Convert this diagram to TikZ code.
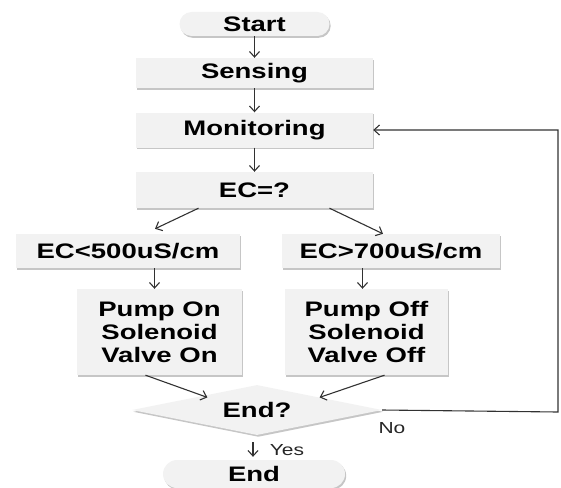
\documentclass[tikz,border=0pt]{standalone}
\usepackage{fontspec}
\setmainfont{Liberation Sans}[FakeStretch=1.31]
\usepackage{tikz}
\usetikzlibrary{shapes.geometric,arrows.meta,calc,shadows}
\definecolor{boxgray}{RGB}{242,242,242}
\definecolor{linegray}{RGB}{50,50,50}
\tikzset{
  box/.style={rectangle, fill=boxgray, drop shadow={shadow xshift=1.2pt, shadow yshift=-1.8pt, opacity=0.45}, inner sep=0pt, align=center, font=\fontsize{21}{23}\selectfont\bfseries},
  termbox/.style={box, rounded corners=12pt, minimum height=24pt},
  decbox/.style={box, diamond, aspect=5, minimum width=250pt, minimum height=50pt},
  arrow/.style={-{Straight Barb[length=5.5pt,width=10pt]}, linegray, line width=1.1pt},
  note/.style={font=\fontsize{16}{18}\selectfont, text=black!85},
}
\begin{document}
\begin{tikzpicture}[x=1pt, y=-1pt]
  \useasboundingbox (0,0) rectangle (561,487);
  % main column
  \node[termbox, minimum width=150pt] (start) at (254.5,24) {Start};
  \node[box, minimum width=237pt, minimum height=30pt] (sense) at (254.5,73) {Sensing};
  \node[box, minimum width=237pt, minimum height=35pt] (mon) at (254.5,130) {Monitoring};
  \node[box, minimum width=237pt, minimum height=36pt] (ecq) at (254.5,190) {EC=?};

  % two branches
  \node[box, minimum width=224pt, minimum height=34pt] (low) at (128,251) {EC<500uS/cm};
  \node[box, minimum width=218pt, minimum height=34pt] (high) at (391,251) {EC>700uS/cm};
  \node[box, minimum width=165pt, minimum height=86pt] (pumpon) at (159.5,332) {Pump On\\Solenoid\\Valve On};
  \node[box, minimum width=163pt, minimum height=86pt] (pumpoff) at (366.5,332) {Pump Off\\Solenoid\\Valve Off};

  % end check
  \node[decbox] (endq) at (257,410) {End?};
  \node[termbox, minimum width=182pt, minimum height=28pt, rounded corners=14pt] (stop) at (254,474) {End};
  \node[note] (yes) at (287,450) {Yes};
  \node[note] (no) at (392,428) {No};

  % connectors
  \draw[arrow] (start) -- (sense);
  \draw[arrow] (sense) -- (mon);
  \draw[arrow] (mon) -- (ecq);
  \draw[arrow] ([xshift=-56pt]ecq.south) -- ([xshift=27pt,yshift=5pt]low.north);
  \draw[arrow] ([xshift=75pt]ecq.south) -- ([xshift=-8pt]high.north);
  \draw[arrow] ([xshift=-5pt]pumpon.north |- low.south) -- ([xshift=-5pt]pumpon.north);
  \draw[arrow] ([xshift=-4pt]pumpoff.north |- high.south) -- ([xshift=-4pt]pumpoff.north);
  \draw[arrow] ([xshift=-14pt]pumpon.south) -- ([xshift=13pt]endq.north west);
  \draw[arrow] ([xshift=18pt]pumpoff.south) -- (endq.north east);
  \draw[arrow, shorten <=7pt, shorten >=3pt] ([xshift=-1pt]stop.north |- endq.south) -- ([xshift=-1pt]stop.north);

  % back to monitoring
  \coordinate (loop) at (558,412);
  \draw[arrow] (endq.east) -- (loop) |- (mon.east);
\end{tikzpicture}
\end{document}
